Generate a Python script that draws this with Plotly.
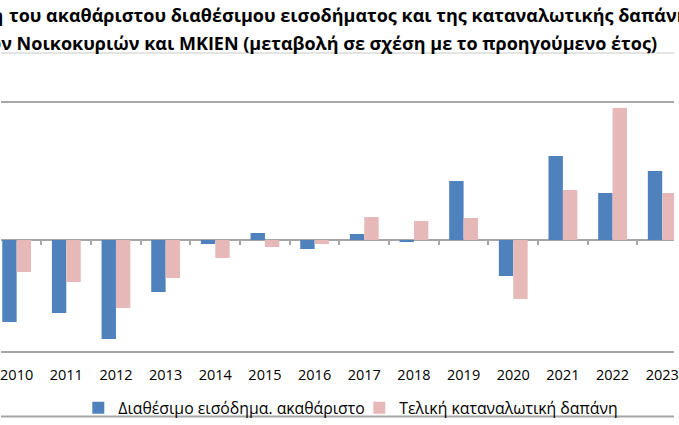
import plotly.graph_objects as go

# yearly change (%)
years = ["2010", "2011", "2012", "2013", "2014", "2015", "2016",
         "2017", "2018", "2019", "2020", "2021", "2022", "2023"]
income_gross = [-8.2, -7.3, -9.9, -5.2, -0.4, 0.7, -0.9,
                0.6, -0.2, 5.9, -3.6, 8.4, 4.7, 6.9]
final_consumption = [-3.2, -4.2, -6.8, -3.8, -1.8, -0.7, -0.4,
                     2.3, 1.9, 2.2, -5.9, 5.0, 13.2, 4.7]

series_names = ["Διαθέσιμο εισόδημα. ακαθάριστο", "Τελική καταναλωτική δαπάνη"]
title_line1_head = "Εξέλιξη"
title_line1_tail = "του ακαθάριστου διαθέσιμου εισοδήματος και της καταναλωτικής δαπάνης"
title_line2 = "των Νοικοκυριών και ΜΚΙΕΝ (μεταβολή σε σχέση με το προηγούμενο έτος)"

W, H = 679, 425
TOP, BOTTOM = 102, 352          # plot area in px
FONT = "Open Sans"
GRID = "#A6A6A6"


def px_x(px):
    return px / W


def px_y(py):
    return (BOTTOM - py) / (BOTTOM - TOP)


fig = go.Figure()
fig.add_trace(go.Bar(x=years, y=income_gross, name=series_names[0],
                     marker=dict(color="#4F81BD", line=dict(width=0))))
fig.add_trace(go.Bar(x=years, y=final_consumption, name=series_names[1],
                     marker=dict(color="#E6B9B8", line=dict(width=0))))

zero_pos = px_y(240)

fig.update_layout(
    width=W, height=H,
    margin=dict(l=0, r=0, t=TOP, b=H - BOTTOM, pad=0),
    paper_bgcolor="white", plot_bgcolor="white",
    font=dict(family=FONT, color="#000000"),
    barmode="group", bargap=0.42, bargroupgap=0,
    showlegend=True,
    legend=dict(orientation="h", x=px_x(78), xanchor="left",
                y=px_y(408), yanchor="middle",
                font=dict(family=FONT, size=15.8, color="#000000"),
                bgcolor="rgba(0,0,0,0)", itemwidth=30, traceorder="normal",
                entrywidth=236, entrywidthmode="pixels"),
    xaxis=dict(type="category", range=[-0.315, 13.237],
               anchor="free", position=zero_pos,
               showline=False, showgrid=False, zeroline=False,
               ticks="outside", tickson="boundaries", ticklen=4,
               tickwidth=1.5, tickcolor=GRID,
               tickfont=dict(family=FONT, size=14.5, color="#000000"),
               ticklabelstandoff=124),
    yaxis=dict(range=[-11.2, 13.8], showgrid=False, showticklabels=False,
               ticks="", showline=False,
               zeroline=True, zerolinecolor=GRID, zerolinewidth=2),
)

# horizontal rules of the surrounding frame
for py, col, w in [(53, "#C8C8C8", 1), (TOP, GRID, 2), (BOTTOM, GRID, 2), (416.5, GRID, 2)]:
    fig.add_shape(type="line", xref="paper", yref="paper",
                  x0=0, x1=1, y0=px_y(py), y1=px_y(py),
                  line=dict(color=col, width=w), layer="below")

title_font = dict(family=FONT, size=18, color="#000000")
fig.add_annotation(text=f"<b>{title_line1_head}</b>", xref="paper", yref="paper",
                   x=px_x(4), y=px_y(15), xanchor="right", yanchor="middle",
                   showarrow=False, font=title_font)
fig.add_annotation(text=f"<b>{title_line1_tail}</b>", xref="paper", yref="paper",
                   x=px_x(6), y=px_y(15), xanchor="left", yanchor="middle",
                   showarrow=False, font=title_font)
fig.add_annotation(text=f"<b>{title_line2}</b>", xref="paper", yref="paper",
                   x=px_x(664), y=px_y(43), xanchor="right", yanchor="middle",
                   showarrow=False, font=title_font)

# the page's default body margin would shift the figure by 8px
fig.write_html("out.html", config={"displayModeBar": False},
               post_script="document.body.style.margin='0';")
